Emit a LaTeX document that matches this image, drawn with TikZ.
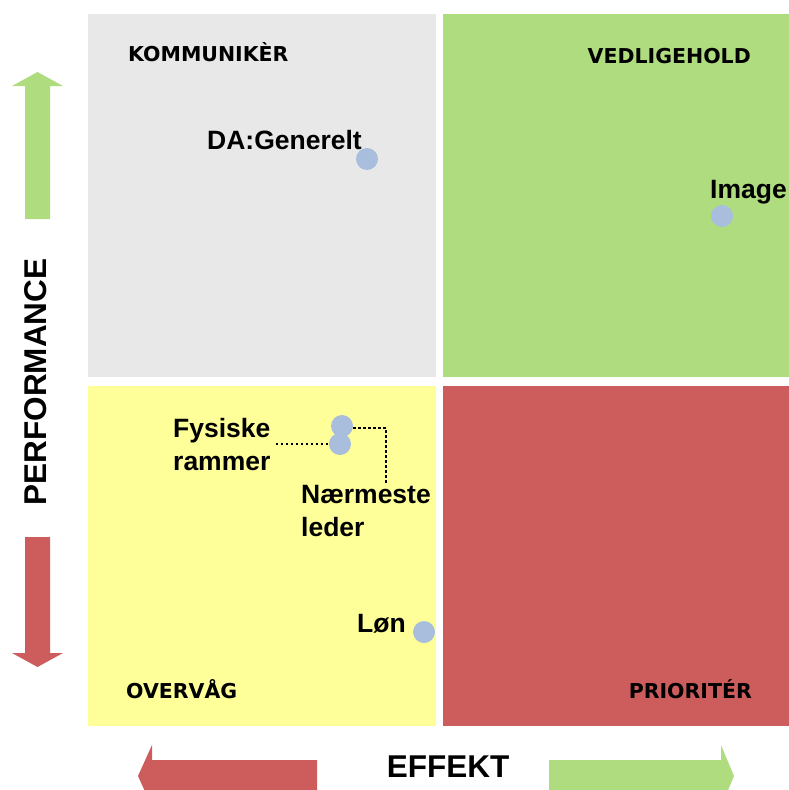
\documentclass[tikz,border=0pt]{standalone}
\usepackage{fontspec}
\setmainfont{Liberation Sans}
\newfontfamily\quadfont{DejaVu Sans}
\usetikzlibrary{positioning}

\definecolor{quadgray}{HTML}{E8E8E8}
\definecolor{quadgreen}{HTML}{B0DC80}
\definecolor{quadyellow}{HTML}{FFFF99}
\definecolor{quadred}{HTML}{CD5D5D}
\definecolor{dotblue}{HTML}{A8BEDC}

\tikzset{
  quadlabel/.style={font=\quadfont\bfseries\fontsize{20.5}{22}\selectfont, inner sep=0pt},
  itemlabel/.style={font=\bfseries\fontsize{26.5}{33}\selectfont, inner sep=0pt, align=left},
  axislabel/.style={font=\bfseries\fontsize{31.5}{36}\selectfont, inner sep=0pt},
  item/.style={circle, fill=dotblue, minimum size=22pt, inner sep=0pt},
  link/.style={dash pattern=on 2.5pt off 2.5pt, line width=2.5pt}
}

\begin{document}
\begin{tikzpicture}[x=1pt, y=-1pt]
  \useasboundingbox (0,0) rectangle (789,790);
  \clip (0,0) rectangle (789,790);

  \fill[quadgray]   (88,14)  rectangle (436,377);
  \fill[quadgreen]  (443,14) rectangle (789,377);
  \fill[quadyellow] (88,386) rectangle (436,726);
  \fill[quadred]    (443,386) rectangle (789,726);

  \fill[quadgreen] (25,219) -- (25,86) -- (12,86) -- (37.5,72) -- (63,86) -- (50,86) -- (50,219) -- cycle;
  \fill[quadred]   (25,537) -- (25,653) -- (12,653) -- (37.5,667) -- (63,653) -- (50,653) -- (50,537) -- cycle;
  \fill[quadred]   (317,760) -- (152,760) -- (152,745) -- (138,776) -- (152,807) -- (152,792) -- (317,792) -- cycle;
  \fill[quadgreen] (549,760) -- (721,760) -- (721,745) -- (734,776) -- (721,807) -- (721,792) -- (549,792) -- cycle;

  \node[quadlabel, anchor=base west] (kom) at (128,61) {KOMMUNIKÈR};
  \node[quadlabel, anchor=base east] (ved) at (751,63) {VEDLIGEHOLD};
  \node[quadlabel, anchor=base west] (ove) at (126,698) {OVERVÅG};
  \node[quadlabel, anchor=base east] (pri) at (752,698) {PRIORITÉR};

  \node[axislabel, rotate=90] (perf) at (36,382) {PERFORMANCE};
  \node[axislabel] (eff) at (448,767) {EFFEKT};

  \node[item] (da) at (367,159) {};
  \node[item] (img) at (722,216) {};
  \node[item] (nl) at (342,426) {};
  \node[item] (fr) at (340,444) {};
  \node[item] (lon) at (424,632) {};

  \node[itemlabel, anchor=base east] (dalbl) at (362,149) {DA:Generelt};
  \node[itemlabel, anchor=base west] (imglbl) at (710,198) {Image};
  \node[itemlabel, anchor=north west] (frlbl) at (173,418) {Fysiske\\rammer};
  \node[itemlabel, anchor=north west] (nllbl) at (301,485) {Nærmeste\\leder};
  \node[itemlabel, anchor=base west] (lonlbl) at (357,632) {Løn};

  \coordinate (bend) at (386,428);
  \draw[link] (frlbl.east |- fr) ++(5,0) -- (fr.west);
  \draw[link] (nl.east |- bend) -- (bend) -- (bend |- nllbl.north);
\end{tikzpicture}
\end{document}
